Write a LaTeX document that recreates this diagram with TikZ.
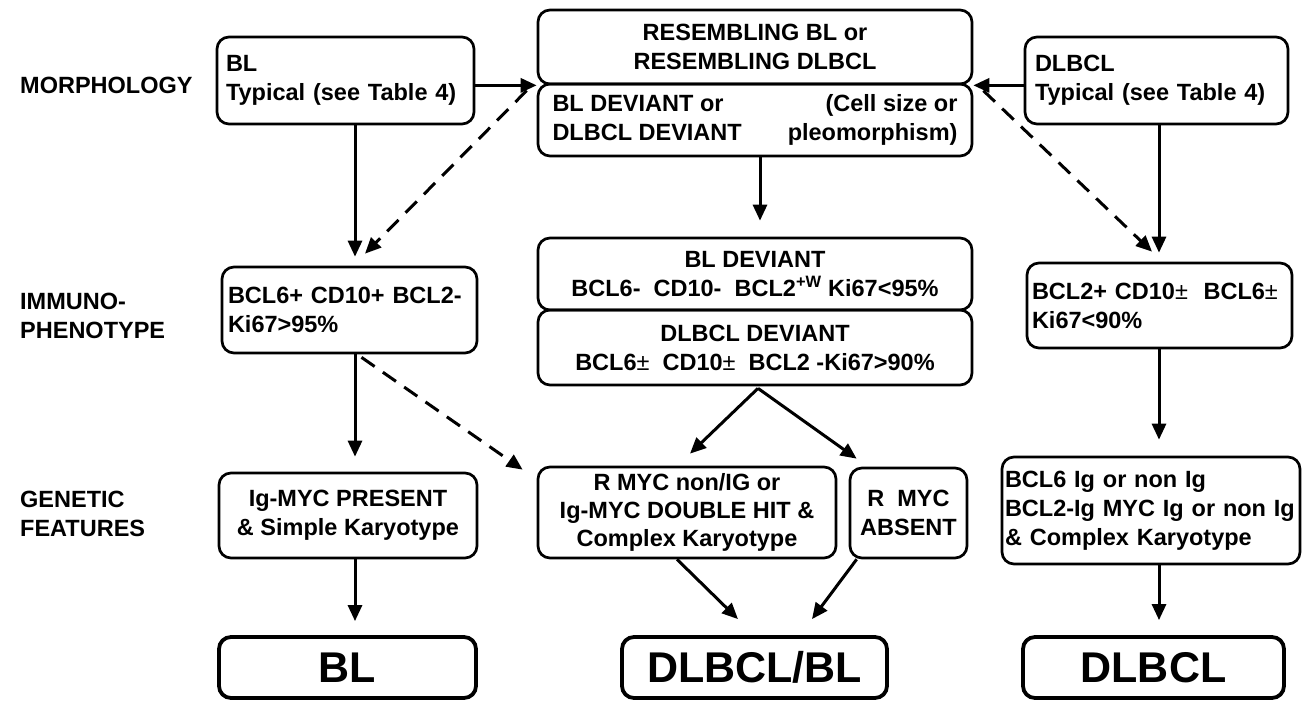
\documentclass[tikz,border=0pt]{standalone}
\usepackage{fontspec}
\setmainfont{Liberation Sans}
\usetikzlibrary{arrows.meta,calc}
\newcommand{\pmthin}{{\mdseries ±}}
\begin{document}
\begin{tikzpicture}[x=1pt,y=-1pt,
  txt/.style={font=\bfseries\fontsize{23.5}{29}\selectfont},
  box/.style={txt,draw,line width=2.7pt,rounded corners=12pt,inner sep=0pt},
  lbox/.style={box,align=left,text width=#1},
  cbox/.style={box,align=center},
  fbox/.style={draw,line width=3.8pt,rounded corners=12pt,inner sep=0pt,
     font=\bfseries\fontsize{43}{48}\selectfont},
  lab/.style={txt,anchor=west,align=left,inner sep=0pt},
  arr/.style={line width=3pt,-{Triangle[length=16pt,width=14pt]}},
  darr/.style={arr,dash pattern=on 16pt off 10pt}]
\useasboundingbox (0,0) rectangle (1302,701);
\fill[white] (0,0) rectangle (1302,701);

% column coordinates
\coordinate (colL) at (355,0);
\coordinate (colC) at (760,0);
\coordinate (colR) at (1159,0);

% row labels
\node[lab] (lm) at (20,85) {MORPHOLOGY};
\node[lab] (li) at (20,316) {IMMUNO-\\PHENOTYPE};
\node[lab] (lg) at (20,514) {GENETIC\\FEATURES};

% morphology row
\node[lbox=239pt,inner xsep=9pt,minimum height=87pt] (bltyp) at (345.5,80.5)
  {BL\\Typical (see Table 4)};
\node[cbox,minimum width=434pt,minimum height=74pt] (cres) at (755,47)
  {RESEMBLING BL or\\RESEMBLING DLBCL};
\node[box,minimum width=434pt,minimum height=72pt] (cdev) at (755,120)
  {\begin{tabular*}{405pt}{@{}l@{\extracolsep{\fill}}r@{}}BL DEVIANT or & (Cell size or\\DLBCL DEVIANT & pleomorphism)\end{tabular*}};
\node[lbox=243pt,inner xsep=10pt,minimum height=87pt] (dltyp) at (1156.5,80.5)
  {DLBCL\\Typical (see Table 4)};

% immunophenotype row
\node[lbox=243pt,inner xsep=6pt,minimum height=86pt] (blimm) at (349.5,310)
  {BCL6+ CD10+ BCL2-\\Ki67>95\%};
\node[cbox,minimum width=434pt,minimum height=72pt] (cbldev) at (755,274)
  {BL DEVIANT\\BCL6-\ \ CD10-\ \ BCL2\textsuperscript{+W} Ki67<95\%};
\node[cbox,minimum width=434pt,minimum height=75pt] (cdldev) at (755,347.5)
  {DLBCL DEVIANT\\BCL6\pmthin\ \ CD10\pmthin\ \ BCL2 -Ki67>90\%};
\node[lbox=255pt,inner xsep=5pt,minimum height=85pt] (dlimm) at (1159.5,305.5)
  {BCL2+ CD10\pmthin\ \ BCL6\pmthin\\Ki67<90\%};

% genetic row
\node[cbox,minimum width=258pt,minimum height=85pt] (igmyc) at (348,515.5)
  {Ig-MYC PRESENT\\\& Simple Karyotype};
\node[cbox,minimum width=298pt,minimum height=91pt,font=\bfseries\fontsize{23.5}{28}\selectfont] (rmyc1) at (687,512.5)
  {R MYC non/IG or\\Ig-MYC DOUBLE HIT \&\\Complex Karyotype};
\node[cbox,minimum width=117pt,minimum height=90pt] (rmyc2) at (908.5,513)
  {R\ \ MYC\\ABSENT};
\node[lbox=292pt,inner xsep=3pt,minimum height=107pt] (dlgen) at (1151,510.5)
  {BCL6 Ig or non Ig\\BCL2-Ig MYC Ig or non Ig\\\& Complex Karyotype};

% final row
\node[fbox,minimum width=257pt,minimum height=61pt] (blf) at (347.5,667.5) {BL};
\node[fbox,minimum width=265pt,minimum height=61pt] (mixf) at (754.5,667.5) {DLBCL/BL};
\node[fbox,minimum width=261pt,minimum height=61pt] (dlf) at (1153.5,667.5) {DLBCL};

% connectors: morphology
\draw[arr] (bltyp.east |- cres.south west) -- (cres.south west);
\draw[arr] (dltyp.west |- cres.south east) -- (cres.south east);
\draw[darr] ($(cdev.north west)+(-10,8)$) -- ($(blimm.north)+(15.5,-12)$);
\draw[darr] ($(cdev.north east)+(10,8)$) -- ($(dlimm.north)+(-7.5,-10)$);
\draw[arr,shorten >=9pt] (bltyp.south -| colL) -- (blimm.north -| colL);
\draw[arr,shorten >=16pt] (cdev.south -| colC) -- (cbldev.north -| colC);
\draw[arr,shorten >=9pt] (dltyp.south -| colR) -- (dlimm.north -| colR);

% connectors: immunophenotype
\draw[arr,shorten >=15pt] (blimm.south -| colL) -- (igmyc.north -| colL);
\draw[darr] ($(blimm.south)+(12,3)$) -- ($(rmyc1.north west)+(-14,4)$);
\draw[arr] ($(cdldev.south)+(3,2)$) -- ($(rmyc1.north)+(3,-12)$);
\draw[arr] ($(cdldev.south)+(3,2)$) -- ($(rmyc2.north west)+(8,-8)$);
\draw[arr,shorten >=16pt] (dlimm.south -| colR) -- (dlgen.north -| colR);

% connectors: genetic
\draw[arr,shorten >=14pt] (igmyc.south -| colL) -- (blf.north -| colL);
\draw[arr] ($(rmyc1.south)+(-10,0)$) -- ($(mixf.north)+(-16.5,-16)$);
\draw[arr] ($(rmyc2.south west)+(8,0)$) -- ($(mixf.north)+(57.5,-16)$);
\draw[arr,shorten >=15pt] (dlgen.south -| colR) -- (dlf.north -| colR);
\end{tikzpicture}
\end{document}
